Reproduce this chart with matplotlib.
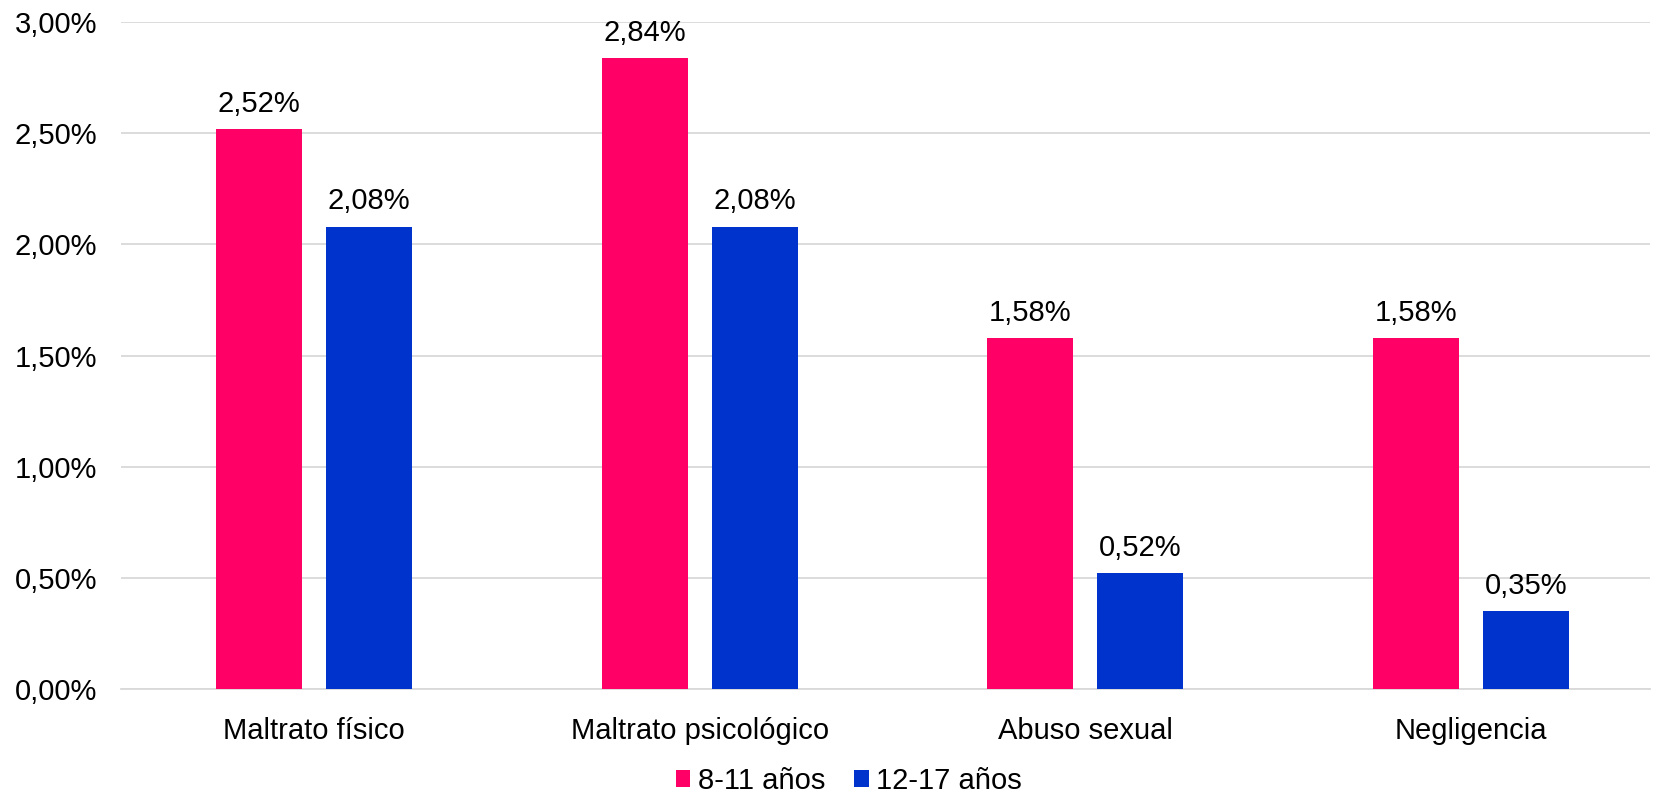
import numpy as np
import matplotlib.pyplot as plt
from matplotlib.ticker import FuncFormatter

categories = ["Maltrato físico", "Maltrato psicológico", "Abuso sexual", "Negligencia"]
series_names = ["8-11 años", "12-17 años"]
vals_8_11 = [2.52, 2.84, 1.58, 1.58]
vals_12_17 = [2.08, 2.08, 0.52, 0.35]
colors = ["#FF0066", "#0033CC"]


def pct(v):
    return f"{v:.2f}%".replace(".", ",")


plt.rcParams["font.family"] = ["Liberation Sans", "DejaVu Sans"]

fig = plt.figure(figsize=(16.53, 7.93), dpi=100)
ax = fig.add_axes([0.0732, 0.1311, 0.925, 0.8411])

x = np.arange(len(categories))
w = 0.223
off = 0.1426
for vals, name, c, dx in [(vals_8_11, series_names[0], colors[0], -off),
                          (vals_12_17, series_names[1], colors[1], off)]:
    bars = ax.bar(x + dx, vals, width=w, color=c, label=name, zorder=3)
    for b, v in zip(bars, vals):
        ax.annotate(pct(v), (b.get_x() + b.get_width() / 2, v),
                    xytext=(0, 8), textcoords="offset points",
                    ha="center", va="bottom", fontsize=21, color="#000000")

ax.set_xlim(-0.5, 3.464)
ax.set_ylim(0, 3.0)
ax.set_yticks(np.arange(0, 3.01, 0.5))
ax.yaxis.set_major_formatter(FuncFormatter(lambda v, p: pct(v)))
ax.set_xticks(x)
ax.set_xticklabels(categories)
ax.tick_params(axis="both", length=0, labelsize=21, colors="#000000")
ax.tick_params(axis="x", pad=20)
ax.tick_params(axis="y", pad=17)
ax.grid(axis="y", color="#D9D9D9", linewidth=1.3, zorder=0)
for s in ["top", "right", "left"]:
    ax.spines[s].set_visible(False)
ax.spines["bottom"].set_color("#D9D9D9")
ax.spines["bottom"].set_linewidth(1.3)

ax.legend(loc="center", bbox_to_anchor=(0.476, -0.138), ncol=2, frameon=False,
          fontsize=21, handlelength=0.5, handleheight=0.5, handletextpad=0.25,
          columnspacing=1.0)

fig.savefig("out.png", dpi=100)
